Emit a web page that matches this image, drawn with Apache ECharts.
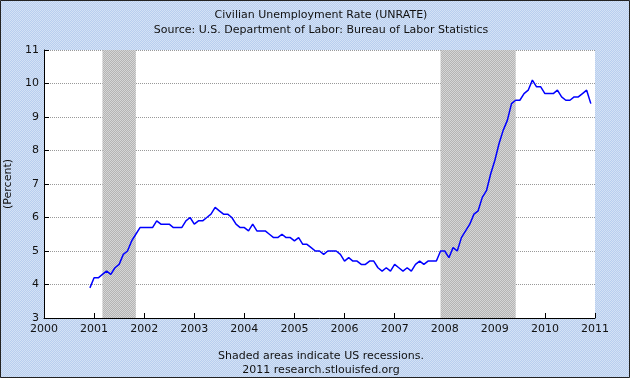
<!DOCTYPE html>
<html>
<head>
<meta charset="utf-8">
<script src="https://cdn.jsdelivr.net/npm/echarts@6/dist/echarts.min.js"></script>
<style>
  html, body { margin: 0; padding: 0; }
  #chart { width: 630px; height: 378px; }
</style>
</head>
<body>
<div id="chart"></div>
<script>
// monthly unemployment rate, Dec 2000 .. Dec 2010
var startYear = 2000, startMonth = 12;
var rate2000 = [3.9];
var rate2001 = [4.2, 4.2, 4.3, 4.4, 4.3, 4.5, 4.6, 4.9, 5.0, 5.3, 5.5, 5.7];
var rate2002 = [5.7, 5.7, 5.7, 5.9, 5.8, 5.8, 5.8, 5.7, 5.7, 5.7, 5.9, 6.0];
var rate2003 = [5.8, 5.9, 5.9, 6.0, 6.1, 6.3, 6.2, 6.1, 6.1, 6.0, 5.8, 5.7];
var rate2004 = [5.7, 5.6, 5.8, 5.6, 5.6, 5.6, 5.5, 5.4, 5.4, 5.5, 5.4, 5.4];
var rate2005 = [5.3, 5.4, 5.2, 5.2, 5.1, 5.0, 5.0, 4.9, 5.0, 5.0, 5.0, 4.9];
var rate2006 = [4.7, 4.8, 4.7, 4.7, 4.6, 4.6, 4.7, 4.7, 4.5, 4.4, 4.5, 4.4];
var rate2007 = [4.6, 4.5, 4.4, 4.5, 4.4, 4.6, 4.7, 4.6, 4.7, 4.7, 4.7, 5.0];
var rate2008 = [5.0, 4.8, 5.1, 5.0, 5.4, 5.6, 5.8, 6.1, 6.2, 6.6, 6.8, 7.3];
var rate2009 = [7.7, 8.2, 8.6, 8.9, 9.4, 9.5, 9.5, 9.7, 9.8, 10.1, 9.9, 9.9];
var rate2010 = [9.7, 9.7, 9.7, 9.8, 9.6, 9.5, 9.5, 9.6, 9.6, 9.7, 9.8, 9.4];

// recessions: [start year, start month, end year, end month]
var recessions = [[2001, 3, 2001, 11], [2007, 12, 2009, 6]];

var yearTicks = [2000, 2011];
var rateTicks = [3, 11];

var allRates = [].concat(rate2000, rate2001, rate2002, rate2003, rate2004, rate2005,
  rate2006, rate2007, rate2008, rate2009, rate2010);

function toYear(y, m) { return y + (m - 1) / 12; }

var points = allRates.map(function (v, i) {
  var m = startMonth - 1 + i;
  return [toYear(startYear + Math.floor(m / 12), m % 12 + 1), v];
});

function checker(a, b) {
  var c = document.createElement('canvas');
  c.width = 2; c.height = 2;
  var ctx = c.getContext('2d');
  ctx.fillStyle = a; ctx.fillRect(0, 0, 2, 2);
  ctx.fillStyle = b; ctx.fillRect(0, 0, 1, 1); ctx.fillRect(1, 1, 1, 1);
  return c;
}

var font = 'DejaVu Sans';
var txt = { fontFamily: font, fontSize: 11, fontWeight: 'normal', color: '#111' };
var chart = echarts.init(document.getElementById('chart'));
chart.setOption({
  animation: false,
  backgroundColor: { image: checker('#B8CEEF', '#D4E2F5'), repeat: 'repeat' },
  title: [
    { text: 'Civilian Unemployment Rate (UNRATE)', left: 316, top: 5, textAlign: 'center', textStyle: txt },
    { text: 'Source: U.S. Department of Labor: Bureau of Labor Statistics', left: 316, top: 20, textAlign: 'center', textStyle: txt },
    { text: 'Shaded areas indicate US recessions.', left: 316, top: 346, textAlign: 'center', textStyle: txt },
    { text: '2011 research.stlouisfed.org', left: 316, top: 360, textAlign: 'center', textStyle: txt }
  ],
  grid: { left: 44, right: 35, top: 50, bottom: 60, outerBoundsMode: 'none',
    show: true, backgroundColor: '#fff', borderWidth: 0 },
  xAxis: {
    type: 'value', min: yearTicks[0], max: yearTicks[1], interval: 1,
    axisLine: { show: true, lineStyle: { color: '#000', width: 1 } },
    axisTick: { show: true, inside: true, length: 5, lineStyle: { color: '#000' } },
    axisLabel: { fontFamily: font, fontSize: 11, color: '#111', margin: 6, formatter: function (v) { return String(v); } },
    splitLine: { show: false }
  },
  yAxis: {
    type: 'value', min: rateTicks[0], max: rateTicks[1], interval: 1,
    name: '(Percent)', nameLocation: 'middle', nameGap: 24,
    nameTextStyle: { fontFamily: font, fontSize: 11, color: '#111' },
    axisLine: { show: true, lineStyle: { color: '#000', width: 1 } },
    axisTick: { show: true, inside: true, length: 5, lineStyle: { color: '#000' } },
    axisLabel: { fontFamily: font, fontSize: 11, color: '#111', margin: 5 },
    splitLine: { show: true, lineStyle: { color: '#999', type: 'dotted', width: 1 } }
  },
  series: [{
    type: 'line',
    data: points,
    showSymbol: false,
    lineStyle: { color: '#0000FF', width: 1.5 },
    markArea: {
      silent: true,
      itemStyle: { color: { image: checker('#B4B4B4', '#D6D6D6'), repeat: 'repeat' } },
      data: recessions.map(function (r) {
        return [{ xAxis: toYear(r[0], r[1]) }, { xAxis: toYear(r[2], r[3]) }];
      })
    }
  }],
  graphic: [{
    type: 'rect', silent: true,
    shape: { x: 0.5, y: 0.5, width: 629, height: 377 },
    style: { fill: 'none', stroke: '#222', lineWidth: 1 }
  }]
});
</script>
</body>
</html>
